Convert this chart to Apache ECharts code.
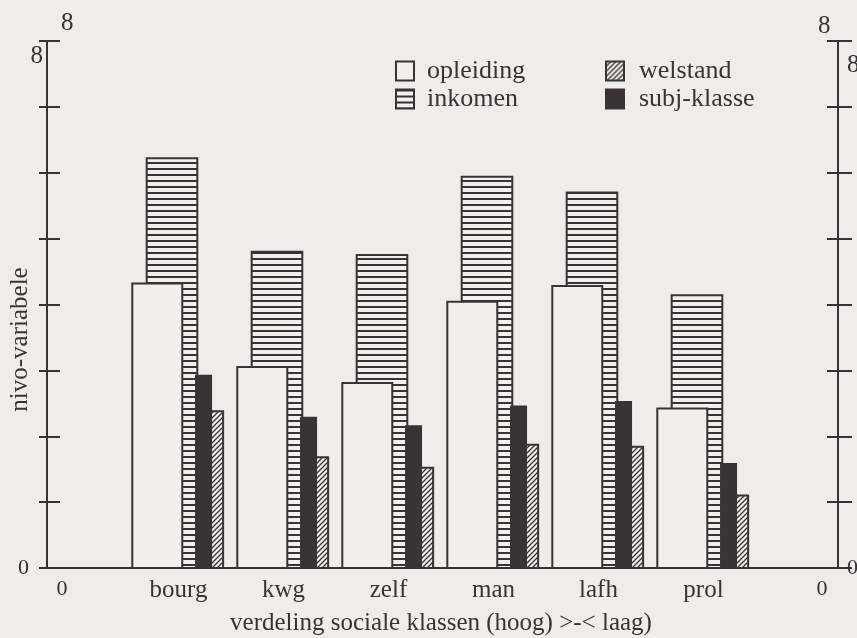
<!DOCTYPE html>
<html>
<head>
<meta charset="utf-8">
<script src="https://cdn.jsdelivr.net/npm/echarts@6/dist/echarts.min.js"></script>
<style>
  html, body { margin: 0; padding: 0; background: #eeedeb; }
  #main { width: 857px; height: 638px; }
</style>
</head>
<body>
<div id="main"></div>
<script>
// data (nivo per sociale klasse)
var klassen = ["bourg", "kwg", "zelf", "man", "lafh", "prol"];
var xLabels = ["0", "bourg", "kwg", "zelf", "man", "lafh", "prol", "0"];
var opleiding = [4.32, 3.05, 2.81, 4.04, 4.28, 2.42];
var inkomen = [6.22, 4.80, 4.75, 5.94, 5.70, 4.14];
var subjKlasse = [2.92, 2.28, 2.15, 2.45, 2.52, 1.58];
var welstand = [2.38, 1.68, 1.52, 1.87, 1.84, 1.10];

var ink = "#383334";
var paper = "#f1f0ee";
var serif = '"Liberation Serif", "DejaVu Serif", serif';

// fill patterns
function stripes() {
  var c = document.createElement("canvas");
  c.width = 6; c.height = 6;
  var ctx = c.getContext("2d");
  ctx.fillStyle = paper; ctx.fillRect(0, 0, 6, 6);
  ctx.fillStyle = ink; ctx.fillRect(0, 0, 6, 2);
  return { image: c, repeat: "repeat" };
}
function hatch() {
  var c = document.createElement("canvas");
  c.width = 5; c.height = 5;
  var ctx = c.getContext("2d");
  ctx.fillStyle = paper; ctx.fillRect(0, 0, 5, 5);
  ctx.strokeStyle = ink; ctx.lineWidth = 1.3;
  ctx.beginPath();
  ctx.moveTo(0, 5); ctx.lineTo(5, 0);
  ctx.moveTo(-1, 1); ctx.lineTo(1, -1);
  ctx.moveTo(4, 6); ctx.lineTo(6, 4);
  ctx.stroke();
  return { image: c, repeat: "repeat" };
}
var fills = {
  opleiding: paper,
  inkomen: stripes(),
  welstand: hatch(),
  "subj-klasse": ink
};

// bar x-extent inside a category slot, in slot widths from its centre
function barRender(fromX, toX, fill) {
  return function (params, api) {
    var top = api.coord([api.value(0), api.value(1)]);
    var base = api.coord([api.value(0), 0]);
    var u = api.size([1, 0])[0];
    return {
      type: "rect",
      shape: { x: top[0] + fromX * u, y: top[1], width: (toX - fromX) * u, height: base[1] - top[1] },
      style: { fill: fill, stroke: ink, lineWidth: 2 }
    };
  };
}

function pairs(vals) {
  return klassen.map(function (k, i) { return [i + 1, vals[i]]; });
}

function barSeries(name, vals, fromX, toX, z) {
  return {
    name: name,
    type: "custom",
    xAxisIndex: 2,
    yAxisIndex: 4,
    z: z,
    itemStyle: { color: fills[name], borderColor: ink, borderWidth: 2 },
    renderItem: barRender(fromX, toX, fills[name]),
    data: pairs(vals)
  };
}

function legendItem(name) {
  return { name: name, icon: "rect", itemStyle: { color: fills[name], borderColor: ink, borderWidth: 2 } };
}

var chart = echarts.init(document.getElementById("main"));

var yScale = { min: 0, max: 8, interval: 1, splitLine: { show: false } };
var axisLine = { show: true, lineStyle: { color: ink, width: 2 } };

var option = {
  backgroundColor: "#eeedeb",
  animation: false,
  textStyle: { fontFamily: serif, color: ink },
  grid: [
    { left: 47, right: 19, top: 41, bottom: 70, containLabel: false, outerBoundsMode: "none" },
    { left: 21, right: -4, top: 41, bottom: 70, containLabel: false, outerBoundsMode: "none" }
  ],
  legend: [
    {
      orient: "vertical", left: 390, top: 53, itemWidth: 18, itemHeight: 19, itemGap: 2,
      textStyle: { fontFamily: serif, fontSize: 26, color: ink, padding: [0, 0, 0, 8] },
      data: [legendItem("opleiding"), legendItem("inkomen")]
    },
    {
      orient: "vertical", left: 600, top: 53, itemWidth: 18, itemHeight: 19, itemGap: 2,
      textStyle: { fontFamily: serif, fontSize: 26, color: ink, padding: [0, 0, 0, 10] },
      data: [legendItem("welstand"), legendItem("subj-klasse")]
    }
  ],
  xAxis: [
    { gridIndex: 0, type: "value", min: 0, max: 1, position: "bottom", axisLine: axisLine,
      axisTick: { show: false }, axisLabel: { show: false }, splitLine: { show: false } },
    { gridIndex: 0, type: "value", min: 0, max: 1, position: "top", axisLine: axisLine,
      axisTick: { show: false }, axisLabel: { show: false }, splitLine: { show: false } },
    {
      gridIndex: 1, type: "category", data: xLabels,
      axisLine: { show: false }, axisTick: { show: false },
      axisLabel: {
        fontFamily: serif, fontSize: 25, color: ink, margin: 10,
        formatter: function (v, i) {
          if (i === 0) return "{a|0}";
          if (i === xLabels.length - 1) return "{b|0}";
          return v;
        },
        rich: {
          a: { fontFamily: serif, fontSize: 22, color: ink, padding: [0, 23, 0, 0] },
          b: { fontFamily: serif, fontSize: 22, color: ink, padding: [0, 0, 0, 27] }
        }
      },
      name: "verdeling sociale klassen (hoog) >-< laag)",
      nameLocation: "middle", nameGap: 43, nameMoveOverlap: false,
      nameTextStyle: { fontFamily: serif, fontSize: 25, color: ink }
    }
  ],
  yAxis: [
    Object.assign({
      gridIndex: 0, type: "value", position: "left", axisLine: axisLine,
      axisTick: { show: true, inside: false, length: 8, lineStyle: { color: ink, width: 2 } },
      axisLabel: {
        margin: 4, fontFamily: serif, fontSize: 22, color: ink,
        formatter: function (v) { return v === 0 ? "{z|0}" : (v === 8 ? "{t|8}" : ""); },
        rich: {
          z: { fontFamily: serif, fontSize: 22, color: ink, padding: [0, 14, 0, 0] },
          t: { fontFamily: serif, fontSize: 25, color: ink, padding: [30, 0, 0, 0] }
        }
      },
      name: "nivo-variabele", nameLocation: "middle", nameRotate: 90, nameGap: 14,
      nameMoveOverlap: false,
      nameTextStyle: { fontFamily: serif, fontSize: 25, color: ink, padding: [0, 70, 0, 0] }
    }, yScale),
    Object.assign({
      gridIndex: 0, type: "value", position: "left", axisLine: { show: false },
      axisTick: { show: true, inside: true, length: 13, lineStyle: { color: ink, width: 2 } },
      axisLabel: { show: false }
    }, yScale),
    Object.assign({
      gridIndex: 0, type: "value", position: "right", axisLine: axisLine,
      axisTick: { show: true, inside: false, length: 14, lineStyle: { color: ink, width: 2 } },
      axisLabel: {
        margin: 9, fontFamily: serif, fontSize: 22, color: ink,
        formatter: function (v) { return v === 0 ? "0" : (v === 8 ? "{t|8}" : ""); },
        rich: { t: { fontFamily: serif, fontSize: 25, color: ink, padding: [48, 0, 0, 0] } }
      }
    }, yScale),
    Object.assign({
      gridIndex: 0, type: "value", position: "right", axisLine: { show: false },
      axisTick: { show: true, inside: true, length: 11, lineStyle: { color: ink, width: 2 } },
      axisLabel: { show: false }
    }, yScale),
    { gridIndex: 1, type: "value", min: 0, max: 8, show: false }
  ],
  graphic: [
    { type: "text", left: 61, top: 11, style: { text: "8", font: "25px " + serif, fill: ink } },
    { type: "text", left: 818, top: 14, style: { text: "8", font: "25px " + serif, fill: ink } }
  ],
  series: [
    barSeries("inkomen", inkomen, -0.303, 0.179, 2),
    barSeries("opleiding", opleiding, -0.44, 0.036, 3),
    barSeries("subj-klasse", subjKlasse, 0.167, 0.31, 4),
    barSeries("welstand", welstand, 0.31, 0.425, 5)
  ]
};

chart.setOption(option);
</script>
</body>
</html>
